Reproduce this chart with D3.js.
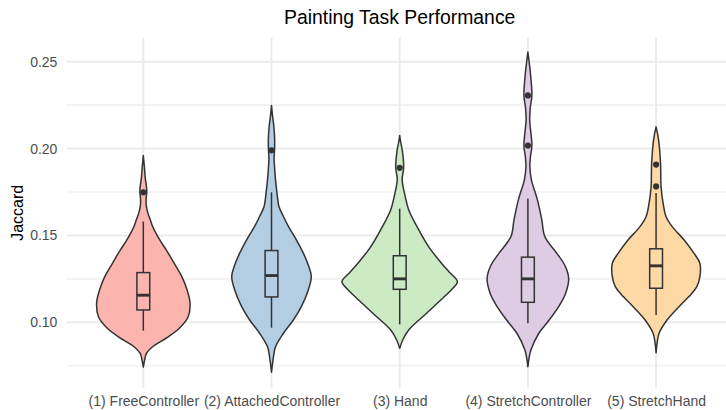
<!DOCTYPE html>
<html>
<head>
<meta charset="utf-8">
<script src="https://cdn.jsdelivr.net/npm/d3@7"></script>
<style>
  html, body { margin: 0; padding: 0; background: #fff; }
  svg { display: block; font-family: "Liberation Sans", Arial, sans-serif; }
</style>
</head>
<body>
<svg id="chart" width="726" height="410"></svg>
<script>
// ---------- data ----------
const categories = ["(1) FreeController", "(2) AttachedController", "(3) Hand", "(4) StretchController", "(5) StretchHand"];
const fillColors = ["#FBB4AE", "#B3CDE3", "#CCEBC5", "#DECBE4", "#FED9A6"];

// violin outlines: [Jaccard value, relative density]
const densityFreeController = [[0.196,0],[0.190,0.017],[0.183,0.034],[0.178,0.055],[0.1748,0.060],[0.171,0.048],[0.167,0.052],[0.163,0.078],[0.159,0.121],[0.155,0.164],[0.1515,0.216],[0.147,0.293],[0.1417,0.397],[0.137,0.483],[0.132,0.569],[0.126,0.672],[0.1186,0.759],[0.111,0.810],[0.103,0.776],[0.097,0.638],[0.0916,0.431],[0.0858,0.155],[0.082,0.052],[0.078,0.021],[0.0742,0]];
const densityAttachedController = [[0.2248,0],[0.219,0.017],[0.212,0.043],[0.205,0.055],[0.199,0.052],[0.194,0.045],[0.1898,0.052],[0.1821,0.069],[0.1744,0.095],[0.1667,0.129],[0.1609,0.207],[0.1552,0.293],[0.1475,0.431],[0.1398,0.552],[0.1321,0.647],[0.1263,0.690],[0.1186,0.638],[0.109,0.517],[0.1013,0.379],[0.0937,0.207],[0.0859,0.069],[0.0801,0.034],[0.0713,0]];
const densityHand = [[0.2075,0],[0.203,0.021],[0.1994,0.043],[0.1889,0.069],[0.1821,0.043],[0.1725,0.095],[0.1648,0.155],[0.1533,0.328],[0.1436,0.5],[0.134,0.724],[0.1288,0.862],[0.1234,1.0],[0.119,0.905],[0.1148,0.776],[0.1052,0.466],[0.0956,0.155],[0.0898,0.052],[0.085,0]];
const densityStretchController = [[0.2556,0],[0.250,0.021],[0.2437,0.043],[0.2306,0.069],[0.224,0.043],[0.2167,0.031],[0.2017,0.069],[0.195,0.043],[0.1898,0.034],[0.1821,0.060],[0.1706,0.164],[0.159,0.241],[0.1494,0.293],[0.1398,0.5],[0.133,0.638],[0.1254,0.707],[0.1167,0.655],[0.109,0.534],[0.101,0.362],[0.0937,0.190],[0.084,0.052],[0.0744,0]];
const densityStretchHand = [[0.2125,0],[0.2052,0.043],[0.1908,0.078],[0.1782,0.086],[0.1687,0.121],[0.1609,0.172],[0.1552,0.276],[0.1475,0.483],[0.1398,0.655],[0.134,0.759],[0.1263,0.759],[0.1205,0.707],[0.1148,0.569],[0.109,0.397],[0.1013,0.190],[0.0937,0.052],[0.088,0.017],[0.0825,0]];
const densities = [densityFreeController, densityAttachedController, densityHand, densityStretchController, densityStretchHand];

// box plot statistics
const lowerWhisker = [0.0952, 0.0969, 0.0988, 0.0994, 0.1042];
const q1           = [0.1071, 0.1146, 0.1190, 0.1115, 0.1196];
const medians      = [0.1156, 0.1269, 0.1250, 0.1250, 0.1325];
const q3           = [0.1286, 0.1413, 0.1383, 0.1375, 0.1423];
const upperWhisker = [0.1580, 0.1748, 0.1654, 0.1713, 0.1744];
const outliers     = [[0.1748], [0.1990], [0.1889], [0.2306, 0.2017], [0.1908, 0.1782]];

const yMajorTicks = [0.10, 0.15, 0.20, 0.25];
const yMinorTicks = [0.075, 0.125, 0.175, 0.225];
const yTickLabels = ["0.10", "0.15", "0.20", "0.25"];

const titleText = "Painting Task Performance";
const yTitle = "Jaccard";

// ---------- layout ----------
const W = 726, H = 410;
const panel = { left: 66.4, right: 733, top: 37.4, bottom: 388.3 };

const svg = d3.select("#chart");

const x = d3.scalePoint().domain(categories).range([panel.left, panel.right]).padding(0.6);
const y = d3.scaleLinear().domain([0.0620, 0.2640]).range([panel.bottom, panel.top]);
const step = x.step();
const maxDens = d3.max(densities.flat(), d => d[1]);
const w = d3.scaleLinear().domain([0, maxDens]).range([0, 0.45 * step]);
const boxHalf = 0.05 * step;

// grid
const grid = svg.append("g");
grid.selectAll("line.minor").data(yMinorTicks).join("line")
  .attr("x1", panel.left).attr("x2", W)
  .attr("y1", d => y(d)).attr("y2", d => y(d))
  .attr("stroke", "#EBEBEB").attr("stroke-width", 1.1);
grid.selectAll("line.major").data(yMajorTicks).join("line")
  .attr("x1", panel.left).attr("x2", W)
  .attr("y1", d => y(d)).attr("y2", d => y(d))
  .attr("stroke", "#EBEBEB").attr("stroke-width", 2);
grid.selectAll("line.vmajor").data(categories).join("line")
  .attr("x1", d => x(d)).attr("x2", d => x(d))
  .attr("y1", panel.top).attr("y2", panel.bottom)
  .attr("stroke", "#EBEBEB").attr("stroke-width", 2);

// axes (text only, theme_minimal)
const yAxis = d3.axisLeft(y).tickValues(yMajorTicks).tickFormat((d, i) => yTickLabels[i]).tickSize(0).tickPadding(9);
const gy = svg.append("g").attr("transform", `translate(${panel.left},0)`).call(yAxis);
gy.select(".domain").remove();
gy.selectAll("text").attr("fill", "#4D4D4D").style("font-size", "14px")
  .style("font-family", '"Liberation Sans", Arial, sans-serif');

const xAxis = d3.axisBottom(x).tickSize(0).tickPadding(8);
const gx = svg.append("g").attr("transform", `translate(0,${panel.bottom})`).call(xAxis);
gx.select(".domain").remove();
gx.selectAll("text").attr("fill", "#4D4D4D").style("font-size", "14px")
  .style("font-family", '"Liberation Sans", Arial, sans-serif');

// violins
const violins = svg.append("g");
categories.forEach((c, i) => {
  const cx = x(c);
  const area = d3.area()
    .y(d => y(d[0]))
    .x0(d => cx - w(d[1]))
    .x1(d => cx + w(d[1]))
    .curve(d3.curveCatmullRom.alpha(0.5));
  violins.append("path")
    .datum(densities[i])
    .attr("d", area)
    .attr("fill", fillColors[i])
    .attr("stroke", "#333333")
    .attr("stroke-width", 1.5)
    .attr("stroke-linejoin", "round");
});

// boxplots
const boxes = svg.append("g");
categories.forEach((c, i) => {
  const cx = x(c);
  const g = boxes.append("g");
  g.append("line").attr("x1", cx).attr("x2", cx)
    .attr("y1", y(upperWhisker[i])).attr("y2", y(q3[i]))
    .attr("stroke", "#333333").attr("stroke-width", 1.5);
  g.append("line").attr("x1", cx).attr("x2", cx)
    .attr("y1", y(q1[i])).attr("y2", y(lowerWhisker[i]))
    .attr("stroke", "#333333").attr("stroke-width", 1.5);
  g.append("rect")
    .attr("x", cx - boxHalf).attr("width", 2 * boxHalf)
    .attr("y", y(q3[i])).attr("height", y(q1[i]) - y(q3[i]))
    .attr("fill", fillColors[i]).attr("stroke", "#333333").attr("stroke-width", 1.5);
  g.append("line").attr("x1", cx - boxHalf).attr("x2", cx + boxHalf)
    .attr("y1", y(medians[i])).attr("y2", y(medians[i]))
    .attr("stroke", "#333333").attr("stroke-width", 2.9);
  g.selectAll("circle").data(outliers[i]).join("circle")
    .attr("cx", cx).attr("cy", d => y(d)).attr("r", 3.1)
    .attr("fill", "#333333");
});

// titles
svg.append("text")
  .attr("x", (panel.left + panel.right) / 2).attr("y", 24)
  .attr("text-anchor", "middle")
  .style("font-size", "19.4px").attr("fill", "#000")
  .text(titleText);

svg.append("text")
  .attr("transform", `translate(23,${(panel.top + panel.bottom) / 2}) rotate(-90)`)
  .attr("text-anchor", "middle")
  .style("font-size", "16px").attr("fill", "#000")
  .text(yTitle);
</script>
</body>
</html>
